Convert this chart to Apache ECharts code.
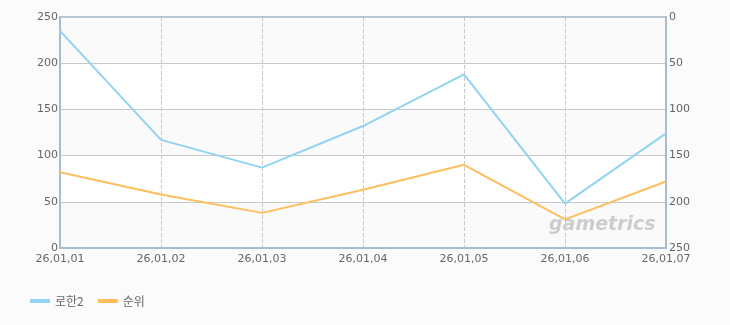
<!DOCTYPE html>
<html><head><meta charset="utf-8">
<script src="https://cdn.jsdelivr.net/npm/echarts@6/dist/echarts.min.js"></script>
<style>html,body{margin:0;padding:0;background:#fbfbfb;}#c{width:730px;height:325px;}</style>
</head><body><div id="c"></div>
<script>
const categories = ['26,01,01','26,01,02','26,01,03','26,01,04','26,01,05','26,01,06','26,01,07'];
const rohan2 = [235, 117, 87, 132, 188, 48, 124];
const rank = [168, 192, 212, 187, 160, 219, 178];
const leftTicks = [0, 50, 100, 150, 200, 250];

const chart = echarts.init(document.getElementById('c'));
const axisLbl = {color:'#666', fontSize:11, fontFamily:'DejaVu Sans, sans-serif'};
chart.setOption({
  backgroundColor:'#fbfbfb',
  animation:false,
  grid:{left:60, right:64, top:17, bottom:77, show:true, borderColor:'#b4c6d8', borderWidth:2, backgroundColor:'#fff'},
  legend:{left:25, top:290, itemWidth:20, itemHeight:4, icon:'rect', itemGap:14,
    textStyle:{color:'#666', fontSize:12, fontFamily:'Noto Sans CJK KR, sans-serif'},
    data:['로한2','순위']},
  graphic:[{type:'text', z:100, left:549, top:216, style:{text:'gametrics', fill:'#cdcdcd', font:'italic bold 19px Verdana, DejaVu Sans, sans-serif'}}],
  xAxis:{type:'category', data:categories, boundaryGap:false,
    axisLine:{lineStyle:{color:'#a9bccf', width:2}}, axisTick:{show:false},
    axisLabel:Object.assign({margin:6, showMinLabel:true, showMaxLabel:true, interval:0}, axisLbl),
    splitLine:{show:true, lineStyle:{color:'#c8c8c8', type:'dashed'}}},
  yAxis:[
    {type:'value', min:leftTicks[0], max:leftTicks[leftTicks.length-1], interval:50,
      axisLine:{show:true, lineStyle:{color:'#a9bccf', width:2}}, axisTick:{show:false},
      axisLabel:Object.assign({margin:2}, axisLbl),
      splitLine:{lineStyle:{color:'#c8c8c8'}},
      splitArea:{show:true, areaStyle:{color:['#fafafa','#ffffff']}}},
    {type:'value', min:0, max:250, interval:50, inverse:true,
      axisLine:{show:true, lineStyle:{color:'#a9bccf', width:2}}, axisTick:{show:false},
      axisLabel:Object.assign({margin:3}, axisLbl),
      splitLine:{show:false}}
  ],
  series:[
    {name:'로한2', type:'line', data:rohan2, yAxisIndex:0, symbol:'none', z:5,
      itemStyle:{color:'#92d3f2'}, lineStyle:{color:'#92d3f2', width:2}},
    {name:'순위', type:'line', data:rank, yAxisIndex:1, symbol:'none', z:5,
      itemStyle:{color:'#fdbe5e'}, lineStyle:{color:'#fdbe5e', width:2}}
  ]
});
</script></body></html>
